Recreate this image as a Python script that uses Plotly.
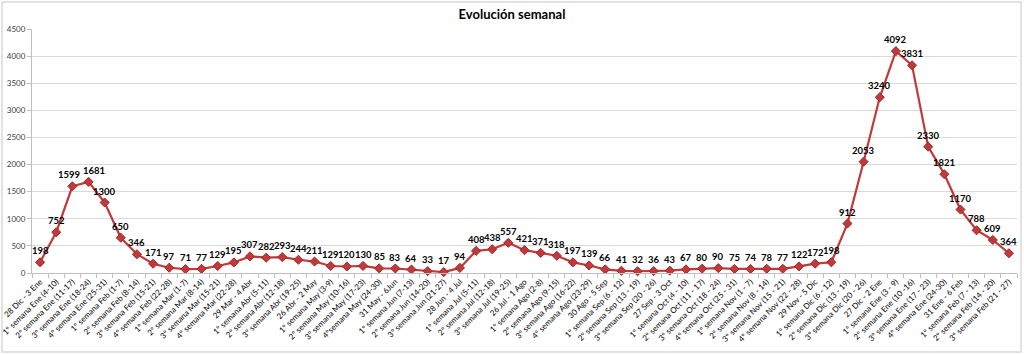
import plotly.graph_objects as go

weeks = [
    "28 Dic - 3 Ene", "1º semana Ene (4-10)", "2º semana Ene (11-17)", "3º semana Ene (18-24)",
    "4º semana Ene (25-31)", "1º semana Feb (1-7)", "2º semana Feb (8-14)", "3º semana Feb (15-21)",
    "4º semana Feb (22-28)", "1º semana Mar (1-7)", "2º semana Mar (8-14)", "3º semana Mar (15-21)",
    "4º semana Mar (22-28)", "29 Mar - 4 Abr", "1º semana Abr (5-11)", "2º semana Abr (12-18)",
    "3º semana Abr (19-25)", "26 Abr - 2 May", "1º semana May (3-9)", "2º semana May (10-16)",
    "3º semana May (17-23)", "4ºsemana May (24-30)", "31 May - 6Jun", "1º semana Jun (7-13)",
    "2º semana Jun (14-20)", "3º semana Jun (21-27)", "28 Jun - 4 Jul", "1º semana Jul (5-11)",
    "2º semana Jul (12-18)", "3º semana Jul (19-25)", "26 Jul - 1 Ago", "1º semana Ago (2-8)",
    "2º semana Ago (9-15)", "3º semana Ago (16-22)", "4º semana Ago (23-29)", "30 Ago - 5 Sep",
    "1º semana Sep (6 - 12)", "2º semana Sep (13 - 19)", "3º semana Sep (20 - 26)", "27 Sep - 3 Oct",
    "1º semana Oct (4 - 10)", "2º semana Oct (11 - 17)", "3º semana Oct (18 - 24)", "4º semana Oct (25 - 31)",
    "1º semana Nov (1 - 7)", "2º semana Nov (8 - 14)", "3º semana Nov (15 - 21)", "4º semana Nov (22 - 28)",
    "29 Nov - 5 Dic", "1º semana Dic (6 - 12)", "2º semana Dic (13 - 19)", "3º semana Dic (20 - 26)",
    "27 Dic - 2 Ene", "1º semana Ene (3 - 9)", "2º semana Ene (10 -16)", "3º semana Ene (17 - 23)",
    "4º semana Ene (24-30)", "31 Ene - 6 Feb", "1º semana Feb (7 - 13)", "2º semana Feb (14 - 20)",
    "3º semana Feb (21 - 27)",
]

cases = [
    198, 752, 1599, 1681, 1300, 650, 346, 171, 97, 71, 77, 129, 195, 307, 282, 293, 244, 211,
    129, 120, 130, 85, 83, 64, 33, 17, 94, 408, 438, 557, 421, 371, 318, 197, 139, 66, 41, 32,
    36, 43, 67, 80, 90, 75, 74, 78, 77, 122, 172, 198, 912, 2053, 3240, 4092, 3831, 2330, 1821,
    1170, 788, 609, 364,
]

y_ticks = [0, 500, 1000, 1500, 2000, 2500, 3000, 3500, 4000, 4500]

RED = "#C0393B"
FONT = "Lato"

# small horizontal nudges for crowded value labels (pixels)
label_nudge = {2: -3, 3: 5}

fig = go.Figure()
fig.add_trace(go.Scatter(
    x=weeks, y=cases,
    mode="lines+markers",
    line=dict(color=RED, width=2.2),
    marker=dict(symbol="diamond", size=7, color=RED, line=dict(color="#A02828", width=1)),
    cliponaxis=False,
    hoverinfo="x+y",
))

for i, (wk, v) in enumerate(zip(weeks, cases)):
    fig.add_annotation(
        x=wk, y=v, text=str(v), showarrow=False,
        xanchor="center", yanchor="bottom", yshift=4, xshift=label_nudge.get(i, 0),
        font=dict(family=FONT, size=9.5, color="#000000", weight="bold"),
    )

fig.update_layout(
    width=1024, height=354,
    margin=dict(l=32, r=7, t=29, b=81),
    paper_bgcolor="white", plot_bgcolor="white",
    showlegend=False,
    title=dict(text="<b>Evolución semanal</b>", x=0.5, xanchor="center", y=0.96, yanchor="middle",
               font=dict(family=FONT, size=13, color="#000000")),
    font=dict(family=FONT, color="#404040"),
)

fig.update_xaxes(
    type="category",
    automargin=False,
    tickangle=-45,
    tickfont=dict(family=FONT, size=8, color="#000000"),
    showgrid=False,
    showline=True, linecolor="#BFBFBF", linewidth=1,
    ticks="outside", ticklen=4, tickcolor="#BFBFBF", tickson="boundaries",
    range=[-0.5, len(weeks) - 0.5],
)

fig.update_yaxes(
    automargin=False,
    range=[0, 4500],
    tickvals=y_ticks,
    tickfont=dict(family=FONT, size=8, color="#404040"),
    showgrid=True, gridcolor="#D9D9D9", gridwidth=1,
    showline=True, linecolor="#BFBFBF", linewidth=1,
    ticks="outside", ticklen=4, tickcolor="#BFBFBF",
    zeroline=False,
)

fig.add_shape(type="rect", xref="paper", yref="paper",
              x0=-30/985, x1=1+4/985, y0=-(81-2)/244, y1=1+(29-2)/244,
              line=dict(color="#D9D9D9", width=1.5), fillcolor="rgba(0,0,0,0)", layer="below")

fig.write_html("out.html")
